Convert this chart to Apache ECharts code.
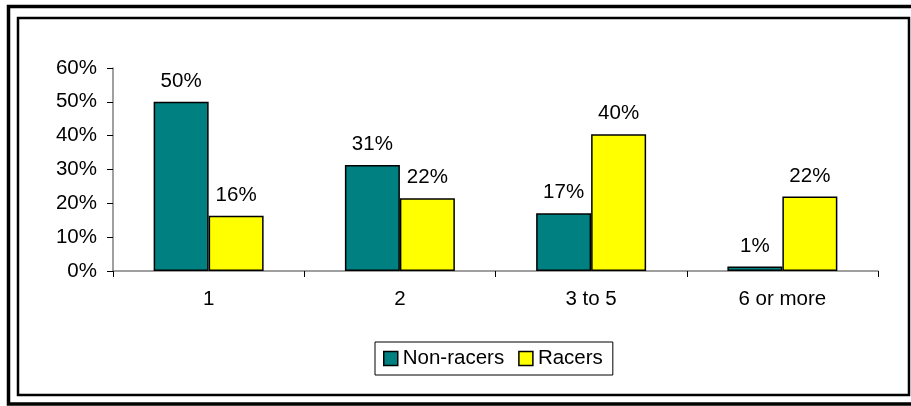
<!DOCTYPE html>
<html>
<head>
<meta charset="utf-8">
<script src="https://cdn.jsdelivr.net/npm/echarts@6/dist/echarts.min.js"></script>
<style>
html,body{margin:0;padding:0;background:#fff;}
#chart{width:911px;height:406px;}
</style>
</head>
<body>
<div id="chart"></div>
<script>
var categories = ['1', '2', '3 to 5', '6 or more'];
var nonRacers = [50, 31.3, 17.1, 1.3];
var racers = [16.3, 21.5, 40.4, 22];
var nonRacerLabels = ['50%', '31%', '17%', '1%'];
var racerLabels = ['16%', '22%', '40%', '22%'];
var yTicks = [0, 10, 20, 30, 40, 50, 60];

var FONT = 'Liberation Sans, Arial, sans-serif';
var FS = 20.5;

var chart = echarts.init(document.getElementById('chart'), null, {renderer: 'canvas'});

function labelFor(arr) {
  return {
    show: true,
    position: 'top',
    distance: 10,
    color: '#000',
    fontFamily: FONT,
    fontSize: FS,
    formatter: function (p) { return arr[p.dataIndex]; }
  };
}

chart.setOption({
  animation: false,
  backgroundColor: '#fff',
  textStyle: {fontFamily: FONT},
  graphic: [
    {type: 'rect', shape: {x: 8.5, y: 6.5, width: 1000, height: 397.5}, style: {fill: 'none', stroke: '#000', lineWidth: 3.5}, silent: true},
    {type: 'rect', shape: {x: 18, y: 18, width: 891, height: 377}, style: {fill: 'none', stroke: '#000', lineWidth: 2.5}, silent: true}
  ],
  grid: {left: 113, right: 33, top: 68, bottom: 135, containLabel: false},
  legend: {
    left: 375,
    top: 342,
    data: ['Non-racers', 'Racers'],
    itemWidth: 14,
    itemHeight: 14,
    itemGap: 14,
    borderColor: '#000',
    borderWidth: 1,
    padding: [6, 10, 6, 8],
    textStyle: {color: '#000', fontFamily: FONT, fontSize: FS},
    icon: 'rect',
    itemStyle: {borderColor: '#000', borderWidth: 1.5}
  },
  xAxis: {
    type: 'category',
    data: categories,
    axisLine: {lineStyle: {color: '#808080', width: 1.5}},
    axisTick: {show: true, length: 6, lineStyle: {color: '#000', width: 1}},
    axisLabel: {color: '#000', fontFamily: FONT, fontSize: FS, margin: 18},
    splitLine: {show: false}
  },
  yAxis: {
    type: 'value',
    min: 0,
    max: 60,
    interval: 10,
    axisLine: {show: true, lineStyle: {color: '#808080', width: 1.5}},
    axisTick: {show: true, length: 6, lineStyle: {color: '#000', width: 1}},
    axisLabel: {color: '#000', fontFamily: FONT, fontSize: FS, margin: 16,
      formatter: function (v) { return yTicks.indexOf(v) >= 0 ? v + '%' : ''; }},
    splitLine: {show: false}
  },
  series: [
    {
      name: 'Non-racers',
      type: 'bar',
      data: nonRacers,
      barGap: '0%',
      barCategoryGap: '42.5%',
      itemStyle: {color: '#008080', borderColor: '#000', borderWidth: 1.5},
      label: labelFor(nonRacerLabels)
    },
    {
      name: 'Racers',
      type: 'bar',
      data: racers,
      barGap: '0%',
      barCategoryGap: '42.5%',
      itemStyle: {color: '#FFFF00', borderColor: '#000', borderWidth: 1.5},
      label: labelFor(racerLabels)
    }
  ]
});
</script>
</body>
</html>
